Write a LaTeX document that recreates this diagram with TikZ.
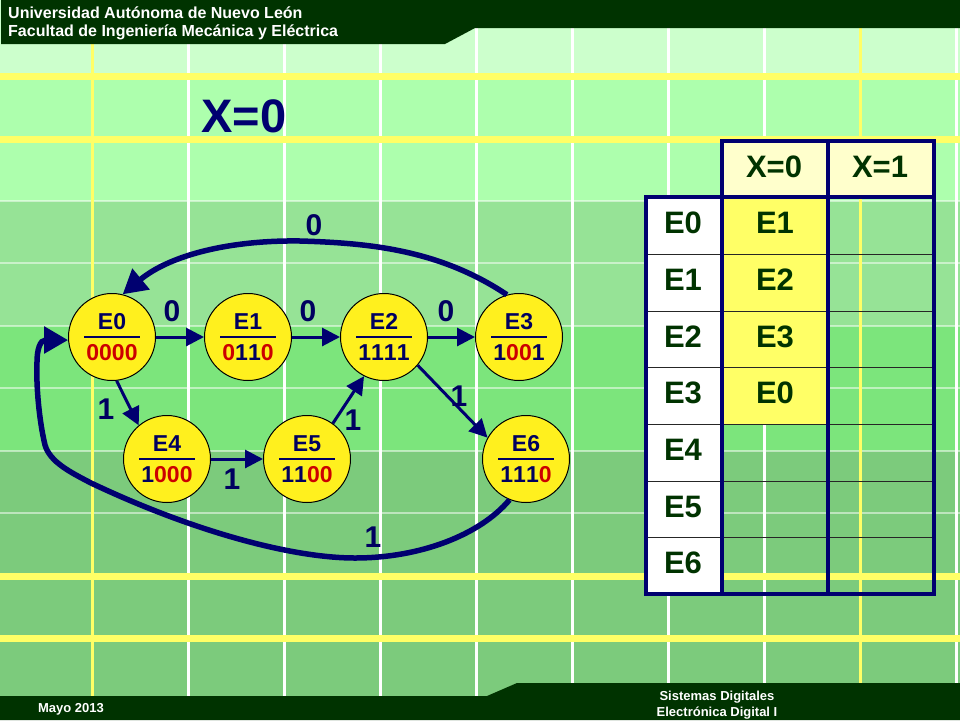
\documentclass[tikz,border=0pt]{standalone}
\usepackage{fontspec}
\setmainfont[Kerning=Off]{Liberation Sans}
\usetikzlibrary{arrows.meta}
\definecolor{navy}{HTML}{000070}
\definecolor{ink}{HTML}{000060}
\definecolor{redbit}{HTML}{CC0000}
\definecolor{dgreen}{HTML}{003300}
\definecolor{bandA}{HTML}{CCFFCC}
\definecolor{bandB}{HTML}{ADFFAD}
\definecolor{bandC}{HTML}{96E396}
\definecolor{bandD}{HTML}{7CE57C}
\definecolor{bandE}{HTML}{7CCB7C}
\definecolor{ygrid}{HTML}{FFFF66}
\definecolor{stfill}{HTML}{FFF01E}
\definecolor{hdcell}{HTML}{FFFFCC}
\newcommand{\bfpx}[1]{\fontsize{#1}{#1}\selectfont\bfseries}
\tikzset{
  x=1pt,y=-1pt,
  state/.style={circle,draw=black,line width=1pt,fill=stfill,minimum size=87pt,inner sep=0pt},
  sttext/.style={font=\bfpx{23},text=ink,inner sep=0pt},
  stbar/.style={draw=ink,line width=2pt},
  edgelabel/.style={font=\bfpx{30},text=ink,inner sep=0pt},
  arr/.style={draw=navy,line width=3pt,-{Triangle[length=18pt,width=18pt]}},
  bigarr/.style={draw=navy,line width=5.5pt,-{Triangle[length=24pt,width=26pt]}},
  cell/.style={font=\bfpx{31},text=dgreen,inner sep=0pt},
  thickrule/.style={draw=navy,line width=4pt,line cap=rect},
  thinrule/.style={draw=black!85,line width=1pt},
  gridY/.style={draw=ygrid,line width=7pt},
  gridYv/.style={draw=ygrid,line width=3pt},
  gridW/.style={draw=white,line width=3pt},
  gridT/.style={draw=white,draw opacity=.5,line width=1.5pt},
  banner/.style={fill=dgreen,draw=none},
  hdtext/.style={font=\bfpx{16},text=white,inner sep=0pt,anchor=west},
  fttext/.style={font=\bfpx{13},text=white,inner sep=0pt},
}
\newcommand{\statenode}[5]{%
  \node[state] (#1) at (#2,#3) {};
  \node[sttext] (#1t) at (#2,#3-15.5) {#4};
  \node[sttext] (#1b) at (#2,#3+16) {#5};
  \draw[stbar] (#2-28,#3) -- (#2+28,#3);
}
\begin{document}
\begin{tikzpicture}
\useasboundingbox (0,0) rectangle (960,720);
% background bands
\fill[bandA] (0,0) rectangle (960,78);
\fill[bandB] (0,78) rectangle (960,201);
\fill[bandC] (0,201) rectangle (960,326);
\fill[bandD] (0,326) rectangle (960,451);
\fill[bandE] (0,451) rectangle (960,720);
% grid
\foreach \yy in {201,263,326,388,451,513}{\draw[gridT] (0,\yy) -- (960,\yy);}
\foreach \xx in {188,284,380,476,572,668,764,956}{\draw[gridW] (\xx,0) -- (\xx,720);}
\foreach \xx in {92,860}{\draw[gridYv] (\xx,0) -- (\xx,720);}
\draw[gridY] (0,76) -- (960,76);
\draw[gridY] (0,139) -- (960,139);
\draw[gridY] (0,576) -- (960,576);
\draw[gridY] (0,638) -- (960,638);
% banners
\fill[banner] (1,0) -- (960,0) -- (960,28) -- (475,28) -- (445,44) -- (1,44) -- cycle;
\fill[banner] (0,696) -- (487,696) -- (517,683) -- (960,683) -- (960,720) -- (0,720) -- cycle;
\node[hdtext] (h1) at (8,13) {Universidad Autónoma de Nuevo León};
\node[hdtext] (h2) at (8,32) {Facultad de Ingeniería Mecánica y Eléctrica};
\node[fttext] (f1) at (71,709) {Mayo 2013};
\node[fttext] (f2) at (717,697) {Sistemas Digitales};
\node[fttext] (f3) at (717,713) {Electrónica Digital I};
% title
\node[font=\bfpx{47},text=navy,inner sep=0pt] (title) at (244,116) {X=0};
% table
\fill[hdcell] (722,141) rectangle (934,197);
\fill[white] (646,197) rectangle (722,594);
\fill[ygrid] (722,197) rectangle (828,424);
\foreach \yy in {254,311,367,424,481,537}{\draw[thinrule] (646,\yy) -- (934,\yy);}
\draw[thickrule] (722,141) -- (934,141);
\draw[thickrule] (646,197) -- (934,197);
\draw[thickrule] (646,594) -- (934,594);
\draw[thickrule] (646,197) -- (646,594);
\draw[thickrule] (722,141) -- (722,594);
\draw[thickrule] (828,141) -- (828,594);
\draw[thickrule] (934,141) -- (934,594);
\node[cell] (hx0) at (774,167) {X=0};
\node[cell] (hx1) at (880,167) {X=1};
\node[cell] (r0) at (683,223) {E0};
\node[cell] (r1) at (683,280) {E1};
\node[cell] (r2) at (683,337) {E2};
\node[cell] (r3) at (683,393) {E3};
\node[cell] (r4) at (683,450) {E4};
\node[cell] (r5) at (683,507) {E5};
\node[cell] (r6) at (683,563) {E6};
\node[cell] (v0) at (775,223) {E1};
\node[cell] (v1) at (775,280) {E2};
\node[cell] (v2) at (775,337) {E3};
\node[cell] (v3) at (775,393) {E0};
% states
\statenode{e0}{112}{337}{E0}{\textcolor{redbit}{0000}}
\statenode{e1}{248}{337}{E1}{\textcolor{redbit}{0}11\textcolor{redbit}{0}}
\statenode{e2}{384}{337}{E2}{1111}
\statenode{e3}{519}{337}{E3}{1\textcolor{redbit}{00}1}
\statenode{e4}{167}{459}{E4}{1\textcolor{redbit}{000}}
\statenode{e5}{307}{459}{E5}{11\textcolor{redbit}{00}}
\statenode{e6}{526}{459}{E6}{111\textcolor{redbit}{0}}
% connectors
\draw[arr] (e0) -- (e1);
\draw[arr] (e1) -- (e2);
\draw[arr] (e2) -- (e3);
\draw[arr] (e4) -- (e5);
\draw[arr] (e0.-84) -- (e4.130);
\draw[arr] (e5.54) -- (e2.-117);
\draw[arr] (e2.-40) -- (e6.151);
\draw[bigarr] (e3.106) .. controls (440,250) and (370,243) .. (300,241)
   .. controls (230,240) and (170,255) .. (e0.76);
\draw[bigarr] (e6.-112) .. controls (480,535) and (420,558) .. (355,558)
   .. controls (290,558) and (190,530) .. (91,483)
   .. controls (70,472) and (50,462) .. (45,445)
   .. controls (39,420) and (36,385) .. (37,362)
   .. controls (37,350) and (40,340) .. (e0.184);
% edge labels
\node[edgelabel] (l1) at (172,311) {0};
\node[edgelabel] (l2) at (308,311) {0};
\node[edgelabel] (l3) at (446,311) {0};
\node[edgelabel] (l4) at (314,225) {0};
\node[edgelabel] (l5) at (106,409) {1};
\node[edgelabel] (l6) at (459,396) {1};
\node[edgelabel] (l7) at (353,420) {1};
\node[edgelabel] (l8) at (232,479) {1};
\node[edgelabel] (l9) at (373,537) {1};
\end{tikzpicture}
\end{document}
